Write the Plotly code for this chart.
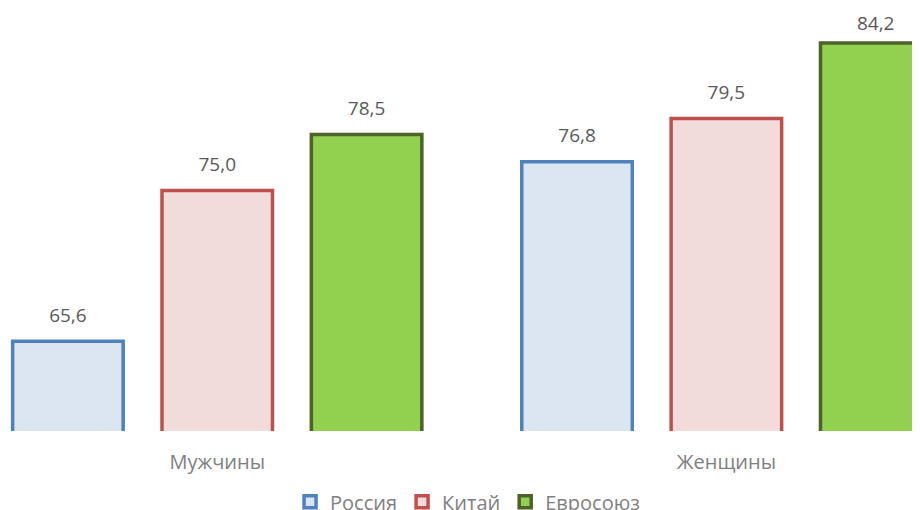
import plotly.graph_objects as go

categories = ['Мужчины', 'Женщины']
russia = [65.6, 76.8]
china = [75.0, 79.5]
eu = [78.5, 84.2]

series = [
    ('Россия', russia, '#DCE6F2', '#4F81BD'),
    ('Китай', china, '#F2DCDB', '#C0504D'),
    ('Евросоюз', eu, '#92D050', '#4F6228'),
]

fig = go.Figure()
for i, (name, vals, fill, line) in enumerate(series):
    fig.add_trace(go.Bar(
        x=categories,
        y=vals,
        name=name,
        offsetgroup=str(i),
        marker=dict(color=fill, line=dict(color=line, width=3.5)),
        hoverinfo='skip',
    ))

# value labels, lifted a bit above the bars
# (the tallest one sits a little lower so it stays inside the frame)
for i, (name, vals, fill, line) in enumerate(series):
    lift = [22 if v < 84 else 12 for v in vals]
    fig.add_trace(go.Scatter(
        x=categories,
        y=vals,
        mode='text+markers',
        offsetgroup=str(i),
        marker=dict(size=lift, opacity=0),
        text=[f'{v:.1f}'.replace('.', ',') for v in vals],
        textposition='top center',
        textfont=dict(color='#595959', size=19),
        cliponaxis=False,
        showlegend=False,
        hoverinfo='skip',
    ))

fig.update_layout(
    width=920,
    height=510,
    margin=dict(l=0, r=0, t=0, b=87),
    barmode='group',
    bargap=0.12,
    bargroupgap=0.26,
    scattermode='group',
    scattergap=0.12,
    plot_bgcolor='white',
    paper_bgcolor='white',
    font=dict(family='Open Sans, sans-serif', size=18, color='#7f7f7f'),
    showlegend=True,
    legend=dict(
        orientation='h',
        xref='container', yref='container',
        x=0.4995, xanchor='center',
        y=0.07, yanchor='top',
        font=dict(size=20, color='#7f7f7f'),
        itemwidth=30,
    ),
    xaxis=dict(
        range=[-0.411, 1.396],
        showline=False, showgrid=False, ticks='',
        ticklabelstandoff=17,
        tickfont=dict(size=20, color='#7f7f7f'),
    ),
    yaxis=dict(
        range=[60, 86.39],
        visible=False,
    ),
)

fig.write_html('out.html')
